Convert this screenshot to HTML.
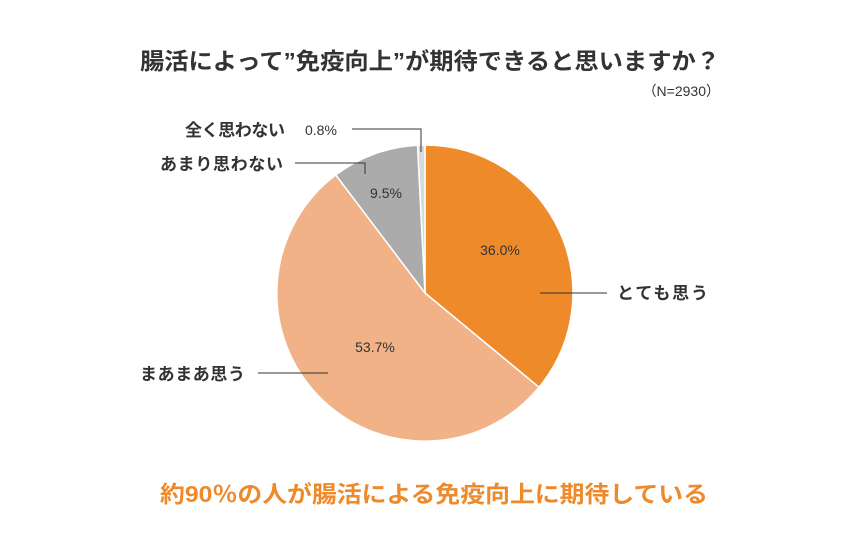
<!DOCTYPE html>
<html><head><meta charset="utf-8"><style>
body{margin:0;background:#fff;}
svg text{font-family:"Liberation Sans","Noto Sans CJK JP",sans-serif;}
</style></head><body>
<svg width="850" height="543" viewBox="0 0 850 543" xmlns="http://www.w3.org/2000/svg">
<rect width="850" height="543" fill="#fff"/>
<text x="140" y="69" font-size="23" font-weight="bold" fill="#333" textLength="580" lengthAdjust="spacingAndGlyphs">腸活によって”免疫向上”が期待できると思いますか？</text>
<text x="720" y="96" text-anchor="end" font-size="14" fill="#333">（N=2930）</text>
<g stroke="#fff" stroke-width="1.5">
<path d="M425,293 L425,145 A148,148 0 0 1 539.0,387.3 Z" fill="#EE8A2A"/>
<path d="M425,293 L539.0,387.3 A148,148 0 1 1 335.8,174.9 Z" fill="#F1B287"/>
<path d="M425,293 L335.8,174.9 A148,148 0 0 1 417.6,145.2 Z" fill="#ABABAB"/>
<path d="M425,293 L417.6,145.2 A148,148 0 0 1 425,145 Z" fill="#D9D9D9"/>
</g>
<g font-size="14" fill="#333" text-anchor="middle">
<text x="500" y="255">36.0%</text>
<text x="375" y="352">53.7%</text>
<text x="386" y="198">9.5%</text>
</g>
<g stroke="#333" stroke-width="1" fill="none">
<line x1="540" y1="293" x2="607" y2="293"/>
<line x1="258" y1="373" x2="328" y2="373"/>
<polyline points="295,163 365,163 365,174"/>
<polyline points="352,129 421,129 421,152"/>
</g>
<g font-size="17" font-weight="bold" fill="#333" lengthAdjust="spacingAndGlyphs">
<text x="617" y="299" textLength="91">とても思う</text>
<text x="140" y="380" textLength="105">まあまあ思う</text>
<text x="160" y="170" textLength="123">あまり思わない</text>
<text x="185" y="136" textLength="100">全く思わない</text>
</g>
<text x="305" y="135" font-size="14" fill="#333">0.8%</text>
<text x="160" y="502" font-size="23" font-weight="bold" fill="#EE8A2A" textLength="548" lengthAdjust="spacingAndGlyphs">約90％の人が腸活による免疫向上に期待している</text>
</svg>
</body></html>
